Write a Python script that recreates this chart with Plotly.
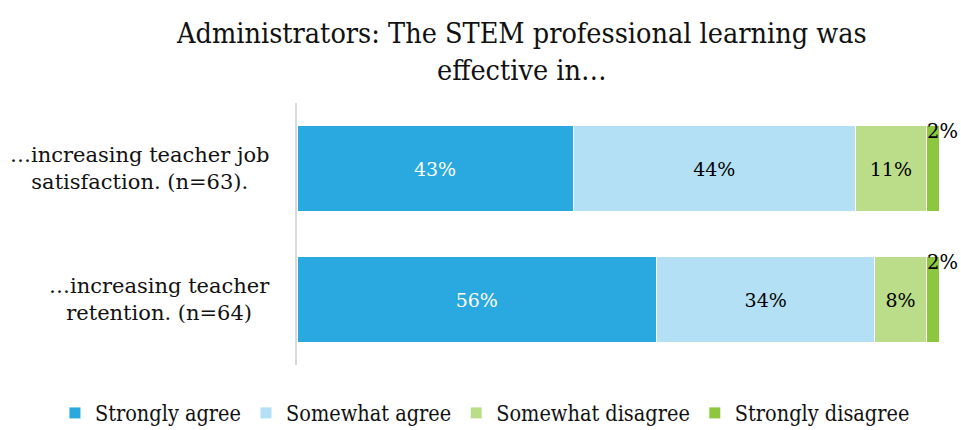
import plotly.graph_objects as go

categories = ["…increasing teacher job<br>satisfaction. (n=63).",
              "…increasing teacher<br>retention. (n=64)"]
series_names = ["Strongly agree", "Somewhat agree", "Somewhat disagree", "Strongly disagree"]
strongly_agree = [43, 56]
somewhat_agree = [44, 34]
somewhat_disagree = [11, 8]
strongly_disagree = [2, 2]
colors = ["#29A9E0", "#B3E0F4", "#BBDD8A", "#8DC63F"]
text_colors = ["white", "black", "black", "black"]

FONT = "DejaVu Serif"
FONT_C = "DejaVu Serif Condensed, Liberation Serif, serif"
series = [strongly_agree, somewhat_agree, somewhat_disagree, strongly_disagree]
ycats = ["c0", "c1"]

fig = go.Figure()
for name, vals, col, tcol in zip(series_names, series, colors, text_colors):
    show_text = name != "Strongly disagree"
    fig.add_trace(go.Bar(
        name=name, x=vals, y=ycats, orientation="h",
        marker=dict(color=col, line=dict(color="white", width=1)),
        text=[f"{v}%" for v in vals] if show_text else None,
        textposition="inside", insidetextanchor="middle",
        textfont=dict(family=FONT, size=19, color=tcol),
        hoverinfo="skip",
    ))

annotations = []
# category labels (centered multi-line)
for yc, lab in zip(ycats, categories):
    annotations.append(dict(text=lab, x=0, xref="paper", y=yc, yref="y",
                            xanchor="right", yanchor="middle", xshift=-25,
                            align="center", showarrow=False,
                            font=dict(family=FONT, size=21, color="#111")))
# small-segment labels above the bar end
for i, yc in enumerate(ycats):
    start = strongly_agree[i] + somewhat_agree[i] + somewhat_disagree[i]
    annotations.append(dict(text=f"{strongly_disagree[i]}%", x=start + strongly_disagree[i] / 2,
                            xref="x", y=yc, yref="y", xanchor="left", yanchor="middle",
                            xshift=-8, yshift=37, showarrow=False,
                            font=dict(family=FONT, size=19.5, color="black")))

fig.update_layout(
    barmode="stack",
    width=961, height=430,
    margin=dict(l=297, r=22, t=103, b=65, autoexpand=False),
    paper_bgcolor="white", plot_bgcolor="white",
    bargap=0.34,
    title=dict(text="Administrators: The STEM professional learning was<br>effective in…",
               x=0.543, xref="container", xanchor="center", y=0.9, yanchor="top",
               font=dict(family=FONT_C, size=28.5, color="#111")),
    xaxis=dict(range=[0, 100], showgrid=False, showticklabels=False, zeroline=False,
               showline=False, fixedrange=True),
    yaxis=dict(autorange="reversed", showticklabels=False, showgrid=False,
               showline=True, linecolor="#d9d9d9", linewidth=2, ticks="",
               fixedrange=True),
    legend=dict(orientation="h", x=-0.377, xref="paper", xanchor="left",
                y=-0.183, yref="paper", yanchor="middle",
                font=dict(family=FONT_C, size=21.5, color="#111"), traceorder="normal",
                itemwidth=30),
    annotations=annotations,
    showlegend=True,
)
fig.write_html("out.html", config={"displayModeBar": False},
               post_script="document.body.style.margin='0';")
